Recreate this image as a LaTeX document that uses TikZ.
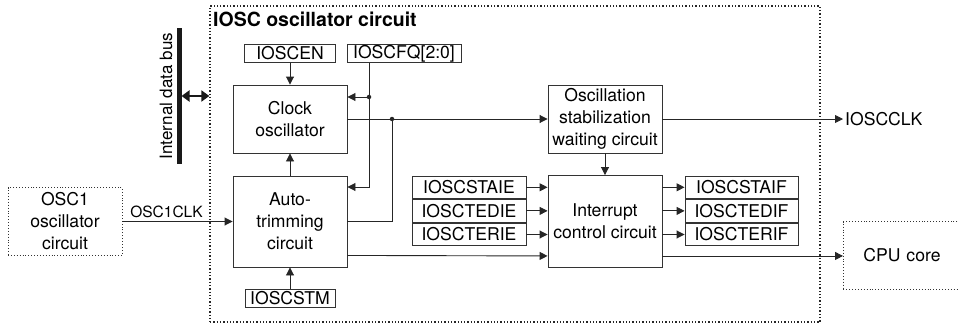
\documentclass[tikz,border=0pt]{standalone}
\usepackage{fontspec}
\setmainfont{TeX Gyre Heros}
\usetikzlibrary{arrows.meta,positioning}

\begin{document}
\begin{tikzpicture}[x=1pt,y=-1pt,font=\fontsize{17.6}{22}\selectfont,>={Triangle[length=8pt,width=8pt]}]
\tikzstyle{bloc}=[draw=black!80, line width=0.9pt, minimum width=114pt, inner sep=0pt, align=center]
\tikzstyle{registre}=[draw=black!80, line width=0.9pt, minimum height=18pt, inner sep=0pt]
\tikzstyle{pile}=[draw=black!80, line width=0.9pt, minimum width=114pt, minimum height=22.7pt, inner sep=0pt]
\tikzstyle{externe}=[draw=black!80, line width=0.9pt, dotted, minimum height=68pt, inner sep=0pt, align=center]
\tikzstyle{fil}=[draw=black!85, line width=0.9pt]
\tikzstyle{point}=[circle, fill=black!85, inner sep=0pt, minimum size=4.5pt]
\useasboundingbox (0,0) rectangle (959,324);
\node[draw=black!85, line width=1.3pt, dotted, minimum width=610pt, minimum height=316pt] (cadre) at (515,164) {};
\node[anchor=west, inner sep=0pt, font=\fontsize{19.5}{22}\selectfont\bfseries] (titre) at (213,19) {IOSC oscillator circuit};
\node[bloc, minimum height=68pt] (clk) at (290,119) {Clock\\oscillator};
\node[bloc, minimum height=91pt] (trim) at (290,221.5) {Auto-\\trimming\\circuit};
\node[bloc, minimum height=68pt] (stab) at (605,119) {Oscillation\\stabilization\\waiting circuit};
\node[bloc, minimum height=92pt] (irq) at (605,221.5) {Interrupt\\control circuit};
\node[registre, minimum width=91pt] (en) at (290,53.5) {IOSCEN};
\node[registre, minimum width=114pt] (fq) at (404,53.5) {IOSCFQ[2:0]};
\node[registre, minimum width=90pt] (stm) at (290,298.5) {IOSCSTM};
\node[pile] (staie) at (469,187.3) {IOSCSTAIE};
\node[pile, below=0pt of staie] (tedie) {IOSCTEDIE};
\node[pile, below=0pt of tedie] (terie) {IOSCTERIE};
\node[pile, minimum width=113pt] (staif) at (741.5,187.3) {IOSCSTAIF};
\node[pile, minimum width=113pt, below=0pt of staif] (tedif) {IOSCTEDIF};
\node[pile, minimum width=113pt, below=0pt of tedif] (terif) {IOSCTERIF};
\node[externe, minimum width=114pt] (osc1) at (65,221.5) {OSC1\\oscillator\\circuit};
\node[externe, anchor=west, inner xsep=20pt, text width=96pt, align=left] (cpu) at (843,255.5) {CPU core};
\node[anchor=west, inner sep=2pt] (clkout) at (843,119) {IOSCCLK};
\node[rotate=90, font=\fontsize{17}{22}\selectfont] (bus) at (166,96) {Internal data bus};
\coordinate (bushaut) at (179,28);
\coordinate (busbas) at (179,164);
\coordinate (busmil) at (181.5,96);
\coordinate (p1) at (369,97);
\coordinate (p2) at (369,187);
\coordinate (p3) at (392,119);
\draw[line width=5pt, black!90] (bushaut) -- (busbas);
\draw[{Triangle[length=8pt,width=11pt]}-{Triangle[length=8pt,width=11pt]}, line width=2.8pt, black!90] (busmil) -- (cadre.west |- busmil);
\draw[fil,->] (en) -- (clk);
\draw[fil,->] (fq.south -| p1) |- (trim.east |- p2);
\draw[fil,->] (p1) -- (clk.east |- p1);
\draw[fil,->] (clk) -- (stab);
\draw[fil] (trim.east) -| (p3);
\draw[fil,->] (trim) -- (clk);
\draw[fil,->] (stm) -- (trim);
\draw[fil,->] (osc1) -- (trim) node[pos=0.4, above, inner sep=3pt, font=\fontsize{15.5}{18}\selectfont] {OSC1CLK};
\draw[fil,->] ([yshift=12pt]trim.south east) -- ([yshift=12pt]irq.south west);
\draw[fil,->] ([yshift=12pt]irq.south east) -- ([yshift=12pt]irq.south east -| cpu.west);
\draw[fil,->] (stab) -- (irq);
\draw[fil,->] (stab) -- (clkout);
\foreach \r in {staie,tedie,terie} \draw[fil,->] (\r.east) -- (\r.east -| irq.west);
\foreach \r in {staif,tedif,terif} \draw[fil,->] (irq.east |- \r.west) -- (\r.west);
\node[point] at (p1) {};
\node[point] at (p3) {};
\end{tikzpicture}
\end{document}
